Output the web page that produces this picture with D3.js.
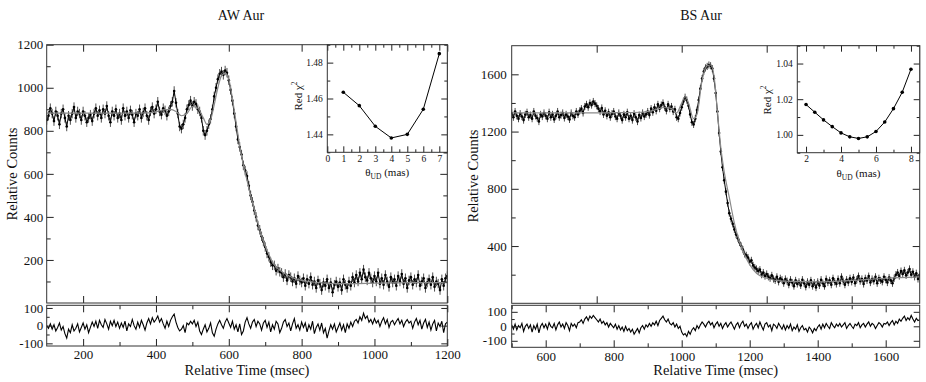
<!DOCTYPE html>
<html>
<head>
<meta charset="utf-8">
<script src="https://d3js.org/d3.v7.min.js"></script>
<style>
body { margin: 0; background: #fff; }
svg text { font-family: "Liberation Serif", "DejaVu Serif", serif; fill: #111; }
</style>
</head>
<body>
<svg id="chart" width="926" height="382" font-family="Liberation Serif"></svg>
<script>
// ---- AW Aur ----
var awStart = 100, awStep = 5;
var awCounts = [
	850, 870, 905, 880, 845, 890, 870, 830, 880, 900, 860, 820, 870, 850, 880, 910, 860, 890, 880, 850,
	890, 870, 840, 860, 875, 845, 880, 905, 870, 895, 860, 900, 880, 915, 870, 840, 890, 870, 900, 860,
	880, 850, 905, 870, 890, 860, 895, 875, 840, 880, 870, 900, 860, 885, 905, 870, 850, 890, 910, 880,
	900, 935, 890, 875, 905, 895, 870, 890, 915, 935, 985, 930, 880, 820, 810, 830, 860, 900, 920, 940,
	915, 935, 925, 900, 890, 860, 800, 780, 800, 830, 855, 900, 960, 1000, 1040, 1065, 1075, 1060, 1080, 1070,
	1035, 990, 940, 880, 820, 760, 725, 690, 640, 615, 590, 545, 500, 470, 430, 400, 360, 340, 310, 285,
	260, 230, 215, 190, 175, 175, 150, 160, 145, 140, 120, 135, 105, 130, 120, 100, 115, 90, 125, 105,
	95, 115, 80, 110, 90, 120, 85, 100, 70, 105, 90, 60, 95, 80, 110, 70, 95, 50, 85, 100,
	75, 95, 60, 110, 85, 70, 100, 80, 120, 95, 130, 100, 140, 110, 155, 120, 105, 140, 115, 95,
	125, 100, 140, 90, 115, 85, 130, 100, 75, 120, 95, 110, 80, 125, 100, 135, 90, 115, 70, 105,
	120, 85, 110, 95, 130, 80, 100, 115, 70, 95, 110, 85, 120, 75, 100, 90, 60, 110, 80, 115,
	125
];
var awErr = 22;
var awModel = [
	[100, 882], [200, 882], [300, 882], [380, 883], [400, 888], [420, 897], [440, 900], [455, 890],
	[470, 870], [485, 880], [500, 912], [515, 905], [530, 860], [540, 830], [550, 850], [560, 920],
	[570, 1000], [580, 1055], [590, 1068], [600, 1040], [610, 950], [620, 840], [630, 730], [640, 640],
	[650, 570], [660, 500], [670, 435], [680, 370], [690, 315], [700, 265], [710, 225], [720, 190],
	[735, 160], [750, 140], [775, 118], [800, 105], [850, 95], [900, 90], [1000, 92], [1100, 95], [1200, 95]
];
var awResid = [
	0, -15, 10, -20, 5, -30, -10, 15, -25, -5, -45, -70, -20, -40, 5, -30, -15, 10, -35, -10,
	15, -20, 5, -40, -10, 20, -5, 25, -15, 30, 5, -10, 35, 10, -20, 25, 0, 30, -5, 20,
	-15, 15, -10, 25, -30, 10, -5, 35, 0, -20, 20, -10, 30, 5, -25, 15, 40, 10, 45, 20,
	35, 55, 20, 40, 10, -15, 25, -5, 30, 50, 65, 20, -10, -30, -20, 0, -40, 15, 5, 25,
	10, 30, -5, 20, -30, -50, -20, 5, -35, -15, 15, -40, -60, -20, 10, 30, 5, -15, 20, 40,
	15, -10, 25, -20, 5, -35, 10, -50, -30, 20, 45, 10, -15, 20, 35, -5, 25, 10, -25, 15,
	30, -10, 20, -35, 5, -20, 25, 10, -40, -15, 20, 35, -5, 15, -30, 10, 40, -15, 5, -25,
	20, -10, 15, -35, 5, -20, 25, -45, -10, 10, -25, 15, -40, -15, -70, -30, 5, -20, 10, -35,
	-10, 15, -25, 5, -40, 10, -15, 20, -5, 25, 35, 15, 50, 30, 70, 40, 55, 20, 35, 10,
	40, 15, 30, -5, 25, 45, 10, 35, -10, 20, 30, 5, 25, 40, 10, 30, -5, 20, 35, 15,
	25, -15, 20, 40, 5, 30, -20, 15, 35, -10, 20, -25, 10, 30, -30, 15, -5, 25, -40, 10,
	20
];
var awTheta = [1, 2, 3, 4, 5, 6, 7];
var awChi2 = [1.4635, 1.456, 1.4445, 1.438, 1.440, 1.454, 1.485];

// ---- BS Aur ----
var bsStart = 500, bsStep = 5;
var bsCounts = [
	1330, 1300, 1340, 1310, 1290, 1325, 1305, 1280, 1320, 1335, 1300, 1315, 1290, 1340, 1310, 1295, 1270, 1320, 1305, 1330,
	1310, 1290, 1335, 1300, 1320, 1285, 1310, 1340, 1300, 1315, 1330, 1295, 1320, 1305, 1285, 1330, 1310, 1300, 1340, 1320,
	1345, 1360, 1330, 1375, 1390, 1370, 1400, 1385, 1410, 1395, 1380, 1360, 1340, 1365, 1320, 1345, 1310, 1335, 1300, 1325,
	1340, 1305, 1290, 1330, 1310, 1280, 1320, 1300, 1335, 1290, 1310, 1280, 1325, 1300, 1270, 1315, 1295, 1330, 1305, 1320,
	1340, 1315, 1360, 1335, 1370, 1345, 1390, 1360, 1385, 1400, 1370, 1345, 1390, 1360, 1375, 1340, 1355, 1300, 1290, 1330,
	1370, 1410, 1440, 1420, 1380, 1320, 1265, 1250, 1290, 1350, 1420, 1500, 1570, 1620, 1645, 1655, 1665, 1660, 1640, 1570,
	1470, 1340, 1190, 1060, 950, 860, 780, 700, 630, 590, 555, 515, 480, 455, 425, 400, 375, 345, 335, 320,
	290, 300, 265, 250, 240, 225, 235, 200, 215, 190, 205, 185, 175, 195, 170, 160, 185, 150, 175, 165,
	140, 170, 155, 130, 165, 145, 120, 160, 135, 150, 125, 165, 140, 115, 150, 130, 160, 120, 145, 110,
	150, 125, 165, 140, 120, 170, 145, 160, 130, 175, 150, 135, 170, 140, 185, 155, 130, 165, 145, 175,
	150, 180, 140, 165, 190, 155, 170, 135, 175, 160, 190, 145, 170, 155, 185, 140, 175, 160, 150, 185,
	165, 145, 180, 160, 140, 175, 200, 215, 190, 225, 205, 230, 195, 215, 240, 200, 220, 185, 210, 170,
	200
];
var bsErr = 25;
var bsModel = [
	[500, 1330], [600, 1330], [700, 1330], [800, 1332], [880, 1335], [920, 1350], [950, 1370], [970, 1360],
	[985, 1330], [1000, 1400], [1010, 1445], [1020, 1400], [1035, 1290], [1045, 1320], [1060, 1560],
	[1075, 1660], [1085, 1665], [1095, 1590], [1105, 1340], [1115, 1090], [1125, 920], [1140, 740],
	[1155, 560], [1170, 430], [1185, 340], [1200, 270], [1220, 210], [1250, 175], [1300, 155],
	[1400, 150], [1500, 160], [1600, 175], [1700, 185]
];
var bsResid = [
	10, -20, 15, -25, 5, -10, 20, -35, 0, 15, -15, 10, -40, 5, -20, 15, -45, 0, 20, -10,
	15, -20, 25, 0, -10, 20, -25, 10, 30, -5, 15, -15, 25, 5, -30, 20, 0, 15, -10, 25,
	30, 45, 20, 50, 65, 40, 70, 55, 75, 60, 45, 30, 50, 20, 35, 10, 25, -5, 20, 5,
	-10, 15, -20, 5, -25, -5, -35, 0, -30, -15, -40, -20, -55, -35, -15, -45, -10, 5, -20, 10,
	-5, 20, 0, 25, 10, 35, 5, 40, 55, 70, 45, 30, 50, 20, 10, 25, -5, 15, -15, 0,
	-40, -60, -50, -70, -35, -55, -25, -10, -30, 5, -15, 10, 30, 15, -5, 20, 35, 10, 25, -10,
	15, 30, 0, 20, -15, 10, 25, -5, 15, 30, 5, -20, 10, 25, -10, 20, 35, 0, 15, -15,
	10, 25, -20, 5, 20, -10, 30, 0, -25, 15, 25, -5, 10, -30, 15, 5, -15, 20, 0, -20,
	10, -25, 5, -15, 15, -30, -5, -20, 10, -35, -10, 5, -25, -15, -40, -5, -20, -45, -15, -30,
	-5, 10, -20, 15, -10, 20, 0, -15, 25, 5, -10, 15, 0, 20, -5, 10, 25, -15, 5, 20,
	0, -15, 15, 5, 25, -10, 10, 20, -5, 15, 30, 0, 20, 10, -15, 5, 25, 15, -5, 20,
	15, 30, 5, 25, 40, 10, 35, 20, 50, 35, 55, 70, 40, 60, 45, 75, 50, 30, 55, 40,
	45
];
var bsTheta = [2, 2.5, 3, 3.5, 4, 4.5, 5, 5.5, 6, 6.5, 7, 7.5, 8];
var bsChi2 = [1.017, 1.0127, 1.0084, 1.0046, 1.0011, 0.9989, 0.998, 0.9989, 1.0019, 1.0072, 1.0147, 1.0239, 1.0368];

// tick labels
var awCountTicks = [200, 400, 600, 800, 1000, 1200];
var awTimeTicks = [200, 400, 600, 800, 1000, 1200];
var bsCountTicks = [400, 800, 1200, 1600];
var bsTimeTicks = [600, 800, 1000, 1200, 1400, 1600];
var residTicks = [-100, 0, 100];
var awThetaTicks = [0, 1, 2, 3, 4, 5, 6, 7];
var awChiTicks = [1.44, 1.46, 1.48];
var bsThetaTicks = [2, 4, 6, 8];
var bsChiTicks = [1.00, 1.02, 1.04];

var svg = d3.select('#chart');
var ink = '#222';
var serif = '"Liberation Serif", "DejaVu Serif", serif';

function tickAxis(g, fn, scale, vals, len, fmt, pad, fs, tx, ty) {
	var a = fn(scale).tickValues(vals).tickSize(-len).tickPadding(pad);
	a.tickFormat(fmt ? fmt : '');
	var gg = g.append('g').attr('transform', 'translate(' + tx + ',' + ty + ')').call(a);
	gg.attr('font-family', null).attr('font-size', null);
	gg.select('.domain').remove();
	gg.selectAll('line').attr('stroke', ink).attr('stroke-width', 1);
	gg.selectAll('text').style('font-size', fs + 'px').style('font-family', serif).attr('fill', '#111');
	return gg;
}

function label(g, x, y, size, txt) {
	return g.append('text').attr('x', x).attr('y', y).attr('text-anchor', 'middle')
		.style('font-family', serif).style('font-size', size + 'px').text(txt);
}

function box(g, x0, y0, x1, y1) {
	g.append('rect').attr('x', x0).attr('y', y0).attr('width', x1 - x0).attr('height', y1 - y0)
		.attr('fill', 'none').attr('stroke', '#333').attr('stroke-width', 1);
}

var clipId = 0;
function clip(g, x0, y0, x1, y1) {
	var id = 'c' + (clipId++);
	svg.append('clipPath').attr('id', id).append('rect')
		.attr('x', x0).attr('y', y0).attr('width', x1 - x0).attr('height', y1 - y0);
	return g.append('g').attr('clip-path', 'url(#' + id + ')');
}

function makePanel(p) {
	var g = svg.append('g');
	var times = p.counts.map(function(d, i) { return p.start + i * p.step; });

	var x = d3.scaleLinear().domain(p.xDomain).range([p.left, p.right]);
	var y = d3.scaleLinear().domain(p.yDomain).range([p.mainBottom, p.top]);
	var yr = d3.scaleLinear().domain(p.rDomain).range([p.resBottom, p.resTop]);

	// main light curve: error bars, joining line, points, grey model on top
	var cm = clip(g, p.left, p.top, p.right, p.mainBottom);
	var line = d3.line().x(function(d) { return x(d[0]); }).y(function(d) { return y(d[1]); });
	var pts = times.map(function(t, i) { return [t, p.counts[i]]; });
	cm.selectAll('line.err').data(pts).enter().append('line').attr('class', 'err')
		.attr('x1', function(d) { return x(d[0]); }).attr('x2', function(d) { return x(d[0]); })
		.attr('y1', function(d) { return y(d[1] - p.err); }).attr('y2', function(d) { return y(d[1] + p.err); })
		.attr('stroke', '#000').attr('stroke-width', 0.7);
	cm.append('path').datum(pts).attr('d', line).attr('fill', 'none').attr('stroke', '#000').attr('stroke-width', 1);
	cm.selectAll('circle.pt').data(pts).enter().append('circle').attr('class', 'pt')
		.attr('cx', function(d) { return x(d[0]); }).attr('cy', function(d) { return y(d[1]); })
		.attr('r', 1.3).attr('fill', '#000');
	cm.append('path').datum(p.model).attr('d', line.curve(d3.curveMonotoneX))
		.attr('fill', 'none').attr('stroke', '#8a8a8a').attr('stroke-width', 1.2);

	// residuals
	var cr = clip(g, p.left, p.resTop, p.right, p.resBottom);
	var rline = d3.line().x(function(d, i) { return x(times[i]); }).y(function(d) { return yr(d); });
	cr.append('path').datum(p.resid).attr('d', rline).attr('fill', 'none').attr('stroke', '#000').attr('stroke-width', 1.1);

	// main axes
	var intFmt = function(d) { return String(d); };
	tickAxis(g, d3.axisLeft, y, p.countTicks, 7, intFmt, 3.5 + p.ypad, 13, p.left, 0);
	tickAxis(g, d3.axisLeft, y, p.countMinor, 4, null, 0, 13, p.left, 0);
	tickAxis(g, d3.axisRight, y, p.countTicks, 7, null, 0, 13, p.right, 0);
	tickAxis(g, d3.axisRight, y, p.countMinor, 4, null, 0, 13, p.right, 0);
	tickAxis(g, d3.axisBottom, x, p.mainXTicks, 7, null, 0, 13, 0, p.mainBottom);
	tickAxis(g, d3.axisTop, x, p.mainXTicks, 7, null, 0, 13, 0, p.top);
	box(g, p.left, p.top, p.right, p.mainBottom);

	// residual axes
	tickAxis(g, d3.axisLeft, yr, residTicks, 6, intFmt, 3.5 + p.ypad, 13, p.left, 0);
	tickAxis(g, d3.axisLeft, yr, [-50, 50], 3, null, 0, 13, p.left, 0);
	tickAxis(g, d3.axisRight, yr, residTicks, 6, null, 0, 13, p.right, 0);
	tickAxis(g, d3.axisBottom, x, p.timeTicks, 7, intFmt, 4, 13, 0, p.resBottom);
	tickAxis(g, d3.axisBottom, x, p.timeMinor, 4, null, 0, 13, 0, p.resBottom);
	tickAxis(g, d3.axisTop, x, p.timeTicks, 7, null, 0, 13, 0, p.resTop);
	tickAxis(g, d3.axisTop, x, p.timeMinor, 4, null, 0, 13, 0, p.resTop);
	box(g, p.left, p.resTop, p.right, p.resBottom);

	// titles
	var cx = (p.left + p.right) / 2;
	label(g, p.titleX, 20, 14, p.title);
	label(g, cx, 375, 14.5, 'Relative Time (msec)');
	label(g, 0, 0, 14.5, 'Relative Counts')
		.attr('transform', 'translate(' + p.yTitleX + ',' + p.yTitleY + ') rotate(-90)')
		.attr('dy', '0.35em');

	// inset
	var ig = g.append('g');
	ig.append('rect').attr('x', p.in.left).attr('y', p.top).attr('width', p.right - p.in.left)
		.attr('height', p.in.bottom - p.top).attr('fill', '#fff');
	var ix = d3.scaleLinear().domain(p.in.xDomain).range([p.in.left, p.right]);
	var iy = d3.scaleLinear().domain(p.in.yDomain).range([p.in.bottom, p.top]);
	var ipts = p.in.theta.map(function(t, i) { return [t, p.in.chi[i]]; });
	ig.append('path').datum(ipts)
		.attr('d', d3.line().x(function(d) { return ix(d[0]); }).y(function(d) { return iy(d[1]); }))
		.attr('fill', 'none').attr('stroke', '#000').attr('stroke-width', 1);
	ig.selectAll('circle').data(ipts).enter().append('circle')
		.attr('cx', function(d) { return ix(d[0]); }).attr('cy', function(d) { return iy(d[1]); })
		.attr('r', 1.8).attr('fill', '#000');
	var f2 = d3.format('.2f');
	tickAxis(ig, d3.axisLeft, iy, p.in.yTicks, 6, f2, 4.5, 9.5, p.in.left, 0);
	tickAxis(ig, d3.axisLeft, iy, p.in.yMinor, 3, null, 0, 9.5, p.in.left, 0);
	tickAxis(ig, d3.axisRight, iy, p.in.yTicks, 6, null, 0, 9.5, p.right, 0);
	tickAxis(ig, d3.axisRight, iy, p.in.yMinor, 3, null, 0, 9.5, p.right, 0);
	tickAxis(ig, d3.axisBottom, ix, p.in.xTicks, 6, intFmt, 3, 9.5, 0, p.in.bottom);
	tickAxis(ig, d3.axisBottom, ix, p.in.xMinor, 3, null, 0, 9.5, 0, p.in.bottom);
	tickAxis(ig, d3.axisTop, ix, p.in.xTicks, 6, null, 0, 9.5, 0, p.top);
	tickAxis(ig, d3.axisTop, ix, p.in.xMinor, 3, null, 0, 9.5, 0, p.top);
	box(ig, p.in.left, p.top, p.right, p.in.bottom);

	var icx = (p.in.left + p.right) / 2;
	var xt = label(ig, icx, p.in.bottom + 24, 11, null);
	xt.append('tspan').text('\u03b8');
	xt.append('tspan').attr('dy', 3).style('font-size', '7.5px').text('UD');
	xt.append('tspan').attr('dy', -3).text(' (mas)');
	var yt = label(ig, 0, 0, 11, null)
		.attr('transform', 'translate(' + p.in.yTitleX + ',' + p.in.yTitleY + ') rotate(-90)')
		.attr('dy', '0.35em');
	yt.append('tspan').text('Red \u03c7');
	yt.append('tspan').attr('dy', -5).style('font-size', '7.5px').text('2');
}

makePanel({
	title: 'AW Aur', titleX: 241,
	counts: awCounts, err: awErr, model: awModel, resid: awResid, start: awStart, step: awStep,
	xDomain: [100, 1200], yDomain: [0, 1200], rDomain: [-115, 115],
	left: 46.7, right: 447.3, top: 44.7, mainBottom: 303, resTop: 305.3, resBottom: 346,
	countTicks: awCountTicks, countMinor: d3.range(100, 1200, 200),
	mainXTicks: awTimeTicks, timeTicks: awTimeTicks, timeMinor: d3.range(300, 1200, 200),
	ypad: 0, yTitleX: 12, yTitleY: 174,
	in: {
		left: 327.3, bottom: 152.3, xDomain: [0, 7.5], yDomain: [1.43, 1.49],
		theta: awTheta, chi: awChi2,
		xTicks: awThetaTicks, xMinor: d3.range(0.5, 7.5, 1),
		yTicks: awChiTicks, yMinor: [1.43, 1.45, 1.47, 1.49],
		yTitleX: 298, yTitleY: 96
	}
});

makePanel({
	title: 'BS Aur', titleX: 701,
	counts: bsCounts, err: bsErr, model: bsModel, resid: bsResid, start: bsStart, step: bsStep,
	xDomain: [500, 1700], yDomain: [0, 1800], rDomain: [-145, 145],
	left: 511.7, right: 919.7, top: 45.7, mainBottom: 303.3, resTop: 305.3, resBottom: 347.3,
	countTicks: bsCountTicks, countMinor: d3.range(200, 1800, 400),
	mainXTicks: [750, 1000, 1250, 1500], timeTicks: bsTimeTicks, timeMinor: d3.range(500, 1700, 200),
	ypad: 1.5, yTitleX: 473, yTitleY: 176,
	in: {
		left: 797.3, bottom: 152.7, xDomain: [1.5, 8.5], yDomain: [0.99, 1.05],
		theta: bsTheta, chi: bsChi2,
		xTicks: bsThetaTicks, xMinor: [3, 5, 7],
		yTicks: bsChiTicks, yMinor: [0.99, 1.01, 1.03, 1.05],
		yTitleX: 767, yTitleY: 100
	}
});
</script>
</body>
</html>
